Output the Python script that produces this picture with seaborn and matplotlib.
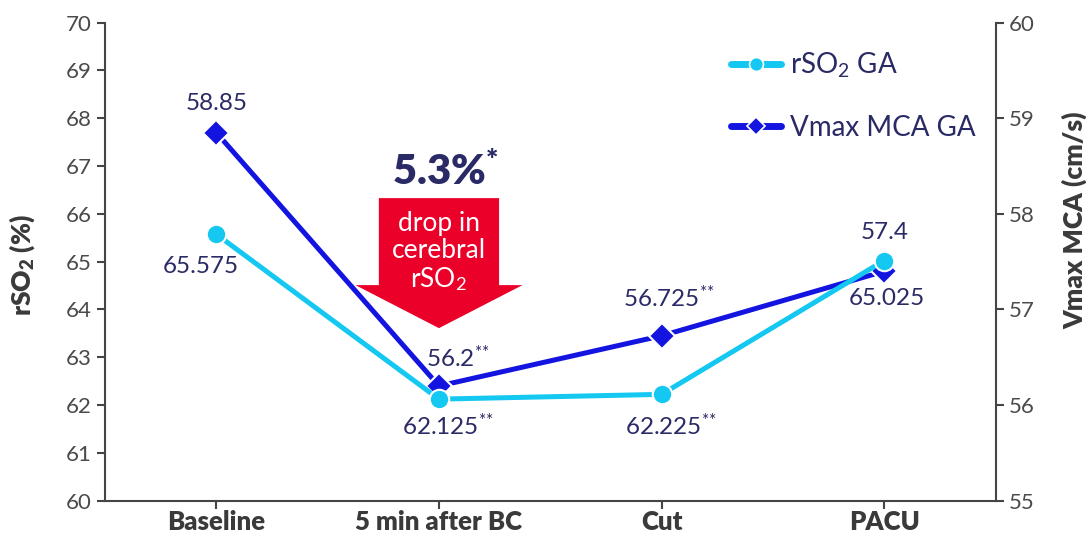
import matplotlib
matplotlib.use("Agg")
import matplotlib.pyplot as plt
import matplotlib.transforms as mtransforms
from matplotlib.patches import Polygon
from matplotlib.lines import Line2D
import seaborn as sns

# data
categories = ["Baseline", "5 min after BC", "Cut", "PACU"]
rso2_ga = [65.575, 62.125, 62.225, 65.025]
vmax_mca_ga = [58.85, 56.2, 56.725, 57.4]
rso2_marks = ["", "**", "**", ""]
vmax_marks = ["", "**", "**", ""]

# label offsets (pixels) from each point
rso2_offsets = [(-16, -32), (9, -27), (9, -31), (3, -38)]
vmax_offsets = [(0, 29), (19, 28), (7, 38), (0, 39)]

CYAN = "#14C8F2"
BLUE = "#1414E0"
NAVY = "#2A2A66"
RED = "#EA0029"
GREY = "#454545"
DARK = "#3a3a3a"

sns.set_style("ticks")
plt.rcParams["font.family"] = ["Lato", "DejaVu Sans"]
plt.rcParams["mathtext.fontset"] = "custom"
plt.rcParams["mathtext.rm"] = "Lato"
plt.rcParams["mathtext.it"] = "Lato:italic"
plt.rcParams["mathtext.bf"] = "Lato:heavy"

fig = plt.figure(figsize=(10.86, 5.35), dpi=100)
ax = fig.add_axes([0.0967, 0.0641, 0.820, 0.8935])
ax2 = ax.twinx()

sns.lineplot(x=categories, y=vmax_mca_ga, ax=ax2, color=BLUE, marker="D",
             markersize=13, linewidth=3.6, markeredgecolor="white",
             markeredgewidth=1.5, legend=False)
sns.lineplot(x=categories, y=rso2_ga, ax=ax, color=CYAN, marker="o",
             markersize=14, linewidth=3.6, markeredgecolor="white",
             markeredgewidth=1.5, legend=False)

ax.set_zorder(ax2.get_zorder() + 1)
ax.patch.set_visible(False)

ax.set_xlim(-0.5, 3.5)
ax.set_ylim(60, 70)
ax2.set_ylim(55, 60)
ax.set_yticks(range(60, 71))
ax2.set_yticks(range(55, 61))

for a in (ax, ax2):
    for s in a.spines.values():
        s.set_color(GREY)
        s.set_linewidth(1.5)
    a.spines["top"].set_visible(False)
    a.tick_params(length=6, width=1.5, color=GREY, labelcolor="#4a4a4a",
                  labelsize=16)
ax.spines["right"].set_visible(False)
ax2.spines["left"].set_visible(False)
ax2.spines["bottom"].set_visible(False)

ax.tick_params(axis="x", labelsize=18.5, labelcolor=DARK, pad=1)
for lbl in ax.get_xticklabels():
    lbl.set_fontweight("heavy")

ax.set_ylabel(r"rSO$_\mathbf{2}$ (%)", fontsize=19, fontweight="heavy",
              color=DARK)
ax.yaxis.set_label_coords(-0.076, 0.493)
ax2.set_ylabel("Vmax MCA (cm/s)", fontsize=19, fontweight="heavy",
               color=DARK)
ax2.yaxis.set_label_coords(1.075, 0.587)

# value labels
star = r"$^{{*}{*}}$"
for i, (v, m, off) in enumerate(zip(rso2_ga, rso2_marks, rso2_offsets)):
    txt = f"{v:g}" + (star if m else "")
    ax.annotate(txt, (i, v), xytext=off, textcoords="offset pixels",
                ha="center", va="center", fontsize=17.5, color=NAVY)
for i, (v, m, off) in enumerate(zip(vmax_mca_ga, vmax_marks, vmax_offsets)):
    txt = f"{v:g}" + (star if m else "")
    ax2.annotate(txt, (i, v), xytext=off, textcoords="offset pixels",
                 ha="center", va="center", fontsize=17.5, color=NAVY)

# red arrow callout
trans = mtransforms.blended_transform_factory(ax.transData, ax.transAxes)
arrow = Polygon([(0.73, 0.633), (1.27, 0.633), (1.27, 0.451), (1.375, 0.451),
                 (1.0, 0.361), (0.625, 0.451), (0.73, 0.451)],
                closed=True, facecolor=RED, edgecolor="none",
                transform=trans, zorder=5)
ax.add_patch(arrow)
ax.text(1.0, 0.52, "drop in\ncerebral\nrSO$_2$", transform=trans,
        ha="center", va="center", color="white", fontsize=19,
        linespacing=1.1, zorder=6)
ax.text(1.03, 0.660, r"5.3%$^{\mathbf{*}}$", transform=trans, ha="center",
        va="baseline", color=NAVY, fontsize=30, fontweight="heavy", zorder=6)

# legend
handles = [
    Line2D([], [], color=CYAN, marker="o", markersize=10, linewidth=5,
           markeredgecolor="white", markeredgewidth=1.2),
    Line2D([], [], color=BLUE, marker="D", markersize=9, linewidth=5,
           markeredgecolor="white", markeredgewidth=1.2),
]
leg = ax.legend(handles, [r"rSO$_2$ GA", "Vmax MCA GA"], loc="upper left",
                bbox_to_anchor=(0.69, 0.965), frameon=False, fontsize=20,
                handlelength=1.8, handletextpad=0.35, labelspacing=1.25,
                borderaxespad=0)
for t in leg.get_texts():
    t.set_color(NAVY)

fig.savefig("out.png", dpi=100)
